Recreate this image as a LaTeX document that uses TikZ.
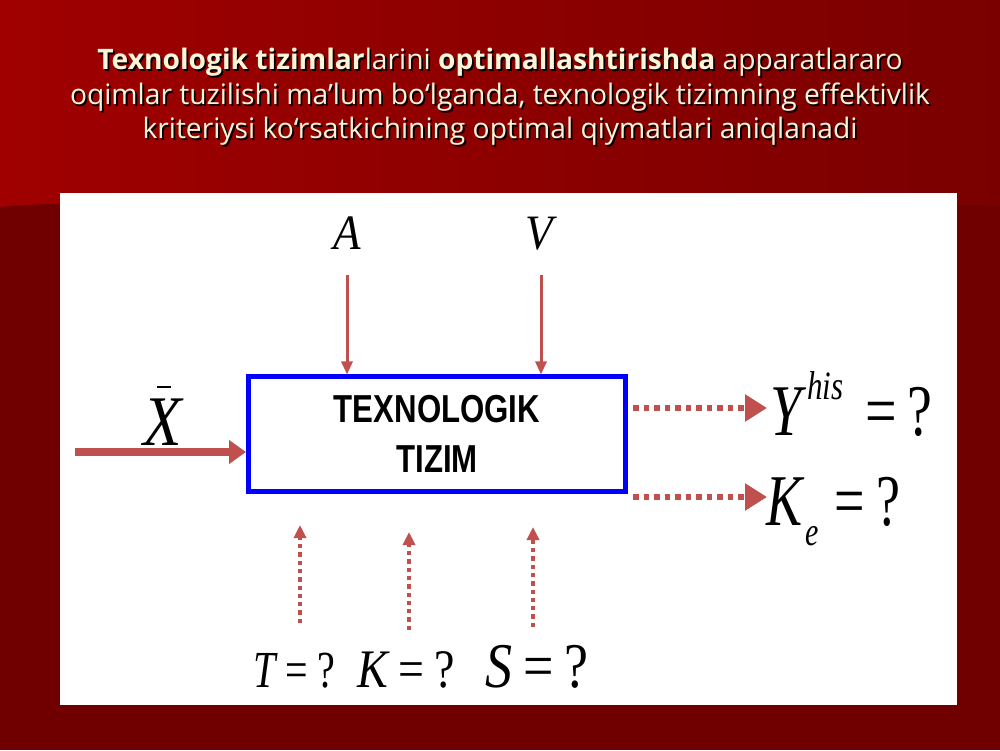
\documentclass[tikz,border=0pt]{standalone}
\usepackage{fontspec}
\setmainfont{Liberation Serif}
\newfontfamily\titlefont{Open Sans}
\newfontfamily\boxfont{Liberation Sans}
\usetikzlibrary{arrows.meta}
\definecolor{bgdark}{HTML}{700000}
\definecolor{bgtopl}{HTML}{A00000}
\definecolor{bgtopr}{HTML}{7A0000}
\definecolor{arr}{HTML}{C0504D}
\definecolor{boxblue}{HTML}{0000FF}
\definecolor{cream}{HTML}{FFF6D8}
\begin{document}
\begin{tikzpicture}[x=1pt,y=1pt,
  solidarr/.style={draw=arr, line width=3pt, -{Triangle[length=13pt,width=11pt]}},
  thickarr/.style={draw=arr, line width=7pt, -{Triangle[length=17pt,width=23pt]}},
  dotarr/.style={draw=arr, line width=5.5pt, dash pattern=on 5.5pt off 5pt, -{Triangle[length=22pt,width=26pt]}},
  updotarr/.style={draw=arr, line width=4.5pt, dash pattern=on 4.3pt off 4pt, -{Triangle[length=13pt,width=12pt]}},
  eqlab/.style={inner sep=0pt, text=black},
  titletext/.style={align=center, font=\titlefont\fontsize{28.2}{34.5}\selectfont}
]
\useasboundingbox (0,0) rectangle (1000,750);
% background
\fill[bgdark] (0,0) rectangle (1000,750);
\shade[left color=bgtopl, right color=bgtopr] (0,750) -- (1000,750) -- (1000,545)
  -- (200,547) .. controls (100,548) and (40,547) .. (0,543) -- cycle;
% white panel
\fill[white] (60,45) rectangle (957,557);

% title
\node[titletext, text=black] (titleshadow) at (501.8,651.2)
  {\textbf{Texnologik tizimlar}larini \textbf{optimallashtirishda} apparatlararo\\
   oqimlar tuzilishi ma’lum bo‘lganda, texnologik tizimning effektivlik\\
   kriteriysi ko‘rsatkichining optimal qiymatlari aniqlanadi};
\node[titletext, text=cream] (title) at (500,653)
  {\textbf{Texnologik tizimlar}larini \textbf{optimallashtirishda} apparatlararo\\
   oqimlar tuzilishi ma’lum bo‘lganda, texnologik tizimning effektivlik\\
   kriteriysi ko‘rsatkichining optimal qiymatlari aniqlanadi};

% system box
\node[draw=boxblue, line width=5pt, minimum width=377pt, minimum height=114pt,
      align=center, font=\boxfont\bfseries\fontsize{39}{50}\selectfont, inner sep=0pt] (sys) at (437,316)
  {\scalebox{0.8}[1]{TEXNOLOGIK}\\\scalebox{0.8}[1]{TIZIM}};

% inputs from top
\node[eqlab, anchor=base] (Alab) at (347,500) {\scalebox{1}[1.1]{\fontsize{45}{45}\selectfont\itshape A}};
\node[eqlab, anchor=base] (Vlab) at (539,500) {\scalebox{1}[1.1]{\fontsize{45}{45}\selectfont\itshape V}};
\coordinate (Astart) at (347,475);
\coordinate (Vstart) at (541,475);
\draw[solidarr] (Astart) -- (Astart |- sys.north);
\draw[solidarr] (Vstart) -- (Vstart |- sys.north);

% input X
\node[eqlab, anchor=base] (Xlab) at (163,305) {\scalebox{1}[1.13]{\fontsize{63}{63}\selectfont\itshape X}};
\draw[line width=1.6pt] (157,363) -- (171,363);
\coordinate (Xstart) at (75,298);
\draw[thickarr] (Xstart) -- (Xstart -| sys.west);

% outputs
\coordinate (Yend) at (767,342);
\coordinate (Kend) at (767,253);
\draw[dotarr, shorten <=5pt] (Yend -| sys.east) -- (Yend);
\draw[dotarr, shorten <=5pt] (Kend -| sys.east) -- (Kend);
\node[eqlab, anchor=base west] (Ylab) at (770,315)
  {\scalebox{1}[1.3]{\fontsize{56}{56}\selectfont{\itshape Y}\hspace{6pt}\raisebox{27pt}{\fontsize{31}{31}\selectfont\itshape his}\hspace{22pt}=\hspace{10pt}?}};
\node[eqlab, anchor=base west] (Klab) at (766,225)
  {\scalebox{1}[1.35]{\fontsize{54}{54}\selectfont{\itshape K}\hspace{3pt}\raisebox{-15pt}{\fontsize{30}{30}\selectfont\itshape e}\hspace{16pt}=\hspace{12pt}?}};

% parameters from below
\coordinate (T1) at (300,127);
\coordinate (T2) at (300,225);
\coordinate (K1) at (409,120);
\coordinate (K2) at (409,218);
\coordinate (S1) at (533,123);
\coordinate (S2) at (533,223);
\draw[updotarr] (T1) -- (T2);
\draw[updotarr] (K1) -- (K2);
\draw[updotarr] (S1) -- (S2);
\node[eqlab, anchor=base west] (Tlab) at (253,63)
  {\scalebox{1}[1.3]{\fontsize{40}{40}\selectfont{\itshape T}\hspace{10pt}=\hspace{10pt}?}};
\node[eqlab, anchor=base west] (Kplab) at (357,63)
  {\scalebox{1}[1.18]{\fontsize{46}{46}\selectfont{\itshape K}\hspace{11pt}=\hspace{10pt}?}};
\node[eqlab, anchor=base west] (Slab) at (485,63)
  {\scalebox{1}[1.18]{\fontsize{54}{54}\selectfont{\itshape S}\hspace{11pt}=\hspace{11pt}?}};
\end{tikzpicture}
\end{document}
